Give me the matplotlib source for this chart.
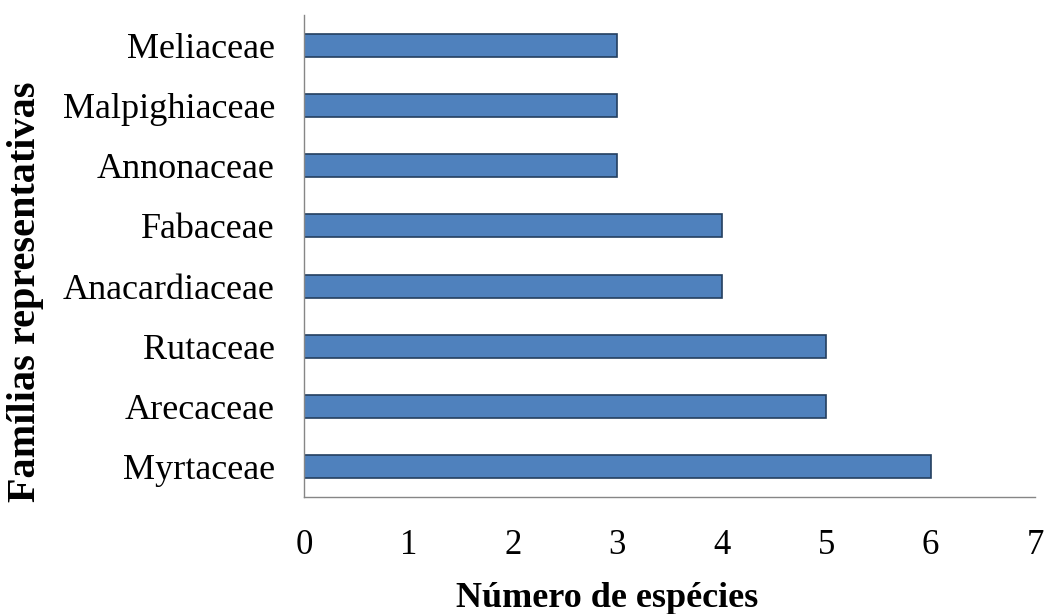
import matplotlib.pyplot as plt

# Famílias e número de espécies (de baixo para cima)
familias = ['Myrtaceae', 'Arecaceae', 'Rutaceae', 'Anacardiaceae',
            'Fabaceae', 'Annonaceae', 'Malpighiaceae', 'Meliaceae']
especies = [6, 5, 5, 4, 4, 3, 3, 3]
x_ticks = [0, 1, 2, 3, 4, 5, 6, 7]

plt.rcParams['font.family'] = ['Liberation Serif', 'DejaVu Serif']


def main():
    fig = plt.figure(figsize=(10.47, 6.14), dpi=100)
    ax = fig.add_axes([0.2904, 0.1906, 0.6981, 0.785])

    ax.barh(familias, especies, height=0.38, color='#4F81BD',
            edgecolor='#243F60', linewidth=1.2)

    ax.set_xlim(0, 7)
    ax.set_ylim(-0.5, 7.5)
    ax.set_xticks(x_ticks)
    ax.tick_params(axis='x', length=0, pad=23, labelsize=25)
    ax.tick_params(axis='y', length=0, pad=21, labelsize=26)

    for side in ['top', 'right']:
        ax.spines[side].set_visible(False)
    for side in ['left', 'bottom']:
        ax.spines[side].set_color('#868686')
        ax.spines[side].set_linewidth(1.0)

    ax.set_xlabel('Número de espécies', fontsize=26, fontweight='bold',
                  va='center')
    ax.xaxis.set_label_coords(0.414, -0.211)
    ax.set_ylabel('Famílias representativas', fontsize=29, fontweight='bold',
                  va='center')
    ax.yaxis.set_label_coords(-0.381, 0.425)

    fig.savefig('out.png', dpi=100)


if __name__ == "__main__":
    main()
